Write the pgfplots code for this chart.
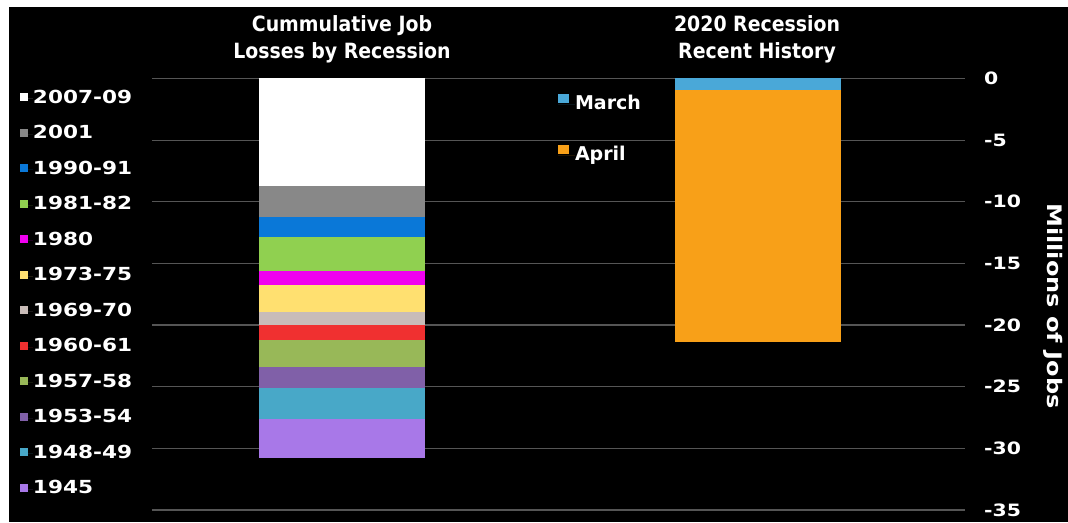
\documentclass[border=0pt]{standalone}
\usepackage{pgfplots}
\pgfplotsset{compat=1.18}
\usepackage{fontspec}
\setmainfont{DejaVu Sans}
\newfontfamily\wideb[FakeStretch=1.2]{DejaVu Sans}
\newfontfamily\narrowb[FakeStretch=0.9]{DejaVu Sans}
\definecolor{gridc}{HTML}{555555}
\definecolor{cA}{HTML}{FFFFFF}
\definecolor{cB}{HTML}{888888}
\definecolor{cC}{HTML}{0A78D8}
\definecolor{cD}{HTML}{90D050}
\definecolor{cE}{HTML}{F000F0}
\definecolor{cF}{HTML}{FFE070}
\definecolor{cG}{HTML}{C8BCB8}
\definecolor{cH}{HTML}{F03030}
\definecolor{cI}{HTML}{98B858}
\definecolor{cJ}{HTML}{8060A8}
\definecolor{cK}{HTML}{48A8C8}
\definecolor{cL}{HTML}{A878E8}
\definecolor{cMar}{HTML}{4AA8D8}
\definecolor{cApr}{HTML}{F8A018}
\pgfplotsset{
  legA/.style={legend image code/.code={\fill[##1,draw=none] (0pt,-3pt) rectangle (8pt,5pt); \path (0pt,0pt) rectangle (13pt,0pt);}},
  legB/.style={legend image code/.code={\fill[##1,draw=none] (0pt,1.5pt) rectangle (11pt,10pt); \path (0pt,0pt) rectangle (17pt,0pt);}},
}
\tikzset{ttl/.style={anchor=base, text=white, font=\narrowb\bfseries\fontsize{21}{21}\selectfont}}
\begin{document}
\begin{tikzpicture}
\fill[white] (0pt,0pt) rectangle (1068pt,522pt);
\fill[black] (9pt,0pt) rectangle (1068pt,515pt);
\begin{axis}[
  at={(152pt,12pt)}, anchor=south west, scale only axis,
  width=813pt, height=431.5pt,
  xmin=-0.458, xmax=1.497, ymin=-35, ymax=0,
  clip=false,
  ybar stacked, bar width=0.399,
  axis line style={draw=none}, major tick length=0pt,
  xtick=\empty,
  ytick={-35,-30,-25,-20,-15,-10,-5,0},
  yticklabels={-35,-30,-25,-20,-15,-10,-5,0},
  ytick pos=right, yticklabel pos=right,
  ymajorgrids, grid style={color=gridc, line width=1.2pt},
  yticklabel style={font=\wideb\bfseries\fontsize{17}{17}\selectfont, text=white, anchor=west, inner sep=0pt, xshift=19pt},
  ylabel={Millions of Jobs},
  ylabel style={font=\wideb\bfseries\fontsize{20}{20}\selectfont, text=white, at={(axis description cs:1.108,0.473)}, anchor=center, rotate=180},
  legend style={at={(axis description cs:-0.1624,0.9733)}, anchor=north west, draw=none, fill=none, text=white,
    font=\wideb\bfseries\fontsize{18}{18}\selectfont, inner sep=0pt, outer sep=0pt, row sep=19.5pt, column sep=0pt,
    nodes={inner sep=0pt, text height=13pt, text depth=3pt}},
  legend cell align=left,
]
\addplot[fill=cA, draw=none, legA] coordinates {(0,-8.7)};
\addplot[fill=cB, draw=none, legA] coordinates {(0,-2.57)};
\addplot[fill=cC, draw=none, legA] coordinates {(0,-1.57)};
\addplot[fill=cD, draw=none, legA] coordinates {(0,-2.76)};
\addplot[fill=cE, draw=none, legA] coordinates {(0,-1.16)};
\addplot[fill=cF, draw=none, legA] coordinates {(0,-2.17)};
\addplot[fill=cG, draw=none, legA] coordinates {(0,-1.07)};
\addplot[fill=cH, draw=none, legA] coordinates {(0,-1.2)};
\addplot[fill=cI, draw=none, legA] coordinates {(0,-2.2)};
\addplot[fill=cJ, draw=none, legA] coordinates {(0,-1.7)};
\addplot[fill=cK, draw=none, legA] coordinates {(0,-2.5)};
\addplot[fill=cL, draw=none, legA] coordinates {(0,-3.2)};
\legend{2007-09,2001,1990-91,1981-82,1980,1973-75,1969-70,1960-61,1957-58,1953-54,1948-49,1945}
\node[ttl] at (axis description cs:0.2337,1.1078) {Cummulative Job};
\node[ttl] at (axis description cs:0.2337,1.0475) {Losses by Recession};
\node[ttl] at (axis description cs:0.7442,1.1078) {2020 Recession};
\node[ttl] at (axis description cs:0.7442,1.0475) {Recent History};
\end{axis}
\begin{axis}[
  at={(152pt,12pt)}, anchor=south west, scale only axis,
  width=813pt, height=431.5pt,
  xmin=-0.458, xmax=1.497, ymin=-35, ymax=0,
  ybar stacked, bar width=0.399,
  axis line style={draw=none}, major tick length=0pt,
  xtick=\empty, ytick=\empty,
  legend style={at={(axis description cs:0.4994,0.964)}, anchor=north west, draw=none, fill=none, text=white,
    font=\bfseries\fontsize{19}{19}\selectfont, inner sep=0pt, outer sep=0pt, row sep=32pt, column sep=0pt,
    nodes={inner sep=0pt, text height=14pt, text depth=4pt}},
  legend cell align=left,
]
\addplot[fill=cMar, draw=none, legB] coordinates {(1,-0.95)};
\addplot[fill=cApr, draw=none, legB] coordinates {(1,-20.45)};
\legend{March,April}
\end{axis}
\end{tikzpicture}
\end{document}
